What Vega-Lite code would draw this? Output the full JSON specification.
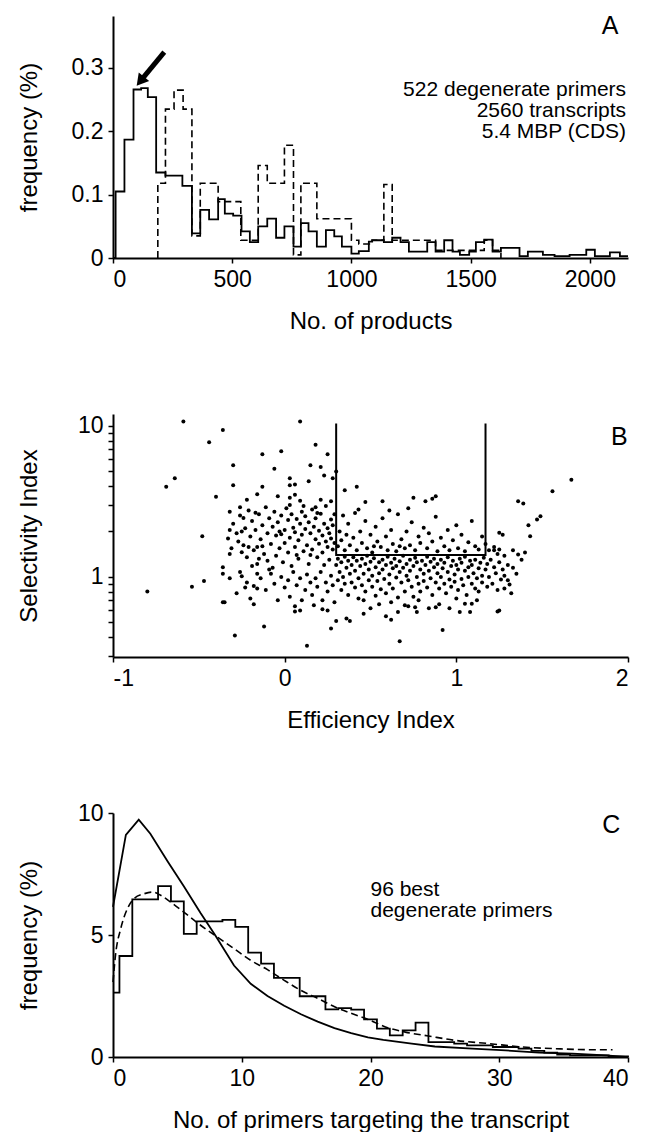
{
 "$schema": "https://vega.github.io/schema/vega-lite/v6.json",
 "background": "white",
 "padding": {"left": 16, "top": 13, "right": 0, "bottom": 0},
 "bounds": "flush",
 "spacing": 156,
 "config": {
  "view": {"stroke": null},
  "font": "Liberation Sans",
  "axis": {"grid": false, "domainColor": "black", "domainWidth": 2, "tickColor": "black", "tickWidth": 1.5, "tickSize": 5, "labelFont": "Liberation Sans", "labelFontSize": 23, "labelColor": "black", "labelPadding": 5, "titleFont": "Liberation Sans", "titleFontSize": 24, "titleFontWeight": "normal", "titleColor": "black", "titlePadding": 18},
  "axisLeft": {"titleX": -84, "titleBaseline": "middle"}
 },
 "vconcat": [
  {
   "width": 515, "height": 242,
   "layer": [
    {
     "data": {"values": [
      {"x":0,"y":0},{"x":11,"y":0.105},{"x":48,"y":0.187},{"x":86,"y":0.266},{"x":118,"y":0.268},{"x":146,"y":0.254},{"x":181,"y":0.135},{"x":220,"y":0.130},{"x":291,"y":0.114},{"x":331,"y":0.039},{"x":366,"y":0.076},{"x":403,"y":0.061},{"x":441,"y":0.093},{"x":469,"y":0.070},{"x":504,"y":0.067},{"x":539,"y":0.042},{"x":574,"y":0.025},{"x":609,"y":0.050},{"x":647,"y":0.062},{"x":684,"y":0.032},{"x":719,"y":0.050},{"x":757,"y":0.018},{"x":788,"y":0.055},{"x":820,"y":0.042},{"x":855,"y":0.018},{"x":893,"y":0.044},{"x":928,"y":0.034},{"x":960,"y":0.018},{"x":1000,"y":0.007},{"x":1031,"y":0.011},{"x":1073,"y":0.026},{"x":1087,"y":0.028},{"x":1136,"y":0.025},{"x":1171,"y":0.032},{"x":1206,"y":0.025},{"x":1241,"y":0.010},{"x":1318,"y":0.025},{"x":1353,"y":0.010},{"x":1389,"y":0.028},{"x":1424,"y":0.010},{"x":1455,"y":0.005},{"x":1494,"y":0.010},{"x":1522,"y":0.025},{"x":1557,"y":0.029},{"x":1592,"y":0.010},{"x":1627,"y":0.016},{"x":1705,"y":0.003},{"x":1740,"y":0.010},{"x":1803,"y":0.005},{"x":1852,"y":0.003},{"x":1915,"y":0.005},{"x":1985,"y":0.013},{"x":2021,"y":0.003},{"x":2084,"y":0.009},{"x":2126,"y":0.003},{"x":2160,"y":0.003}
     ]},
     "mark": {"type": "line", "interpolate": "step-after", "color": "black", "strokeWidth": 1.8},
     "encoding": {
      "x": {"field": "x", "type": "quantitative", "scale": {"domain": [0, 2160], "nice": false}, "axis": {"values": [0, 500, 1000, 1500, 2000], "format": "d"}, "title": "No. of products"},
      "y": {"field": "y", "type": "quantitative", "scale": {"domain": [0, 0.382], "nice": false}, "axis": {"values": [0, 0.1, 0.2, 0.3], "format": "~g"}, "title": "frequency (%)"}
     }
    },
    {
     "data": {"values": [
      {"x":188,"y":0},{"x":188,"y":0.118},{"x":220,"y":0.235},{"x":256,"y":0.265},{"x":294,"y":0.235},{"x":331,"y":0.035},{"x":366,"y":0.118},{"x":441,"y":0.089},{"x":536,"y":0.028},{"x":609,"y":0.146},{"x":647,"y":0.118},{"x":719,"y":0.178},{"x":757,"y":0.005},{"x":788,"y":0.118},{"x":855,"y":0.062},{"x":1000,"y":0.028},{"x":1031,"y":0.022},{"x":1087,"y":0.028},{"x":1136,"y":0.116},{"x":1171,"y":0.028},{"x":1353,"y":0.012},{"x":1557,"y":0.028},{"x":1592,"y":0.012},{"x":1627,"y":0}
     ]},
     "mark": {"type": "line", "interpolate": "step-after", "color": "black", "strokeWidth": 1.6, "strokeDash": [7, 4]},
     "encoding": {
      "x": {"field": "x", "type": "quantitative"},
      "y": {"field": "y", "type": "quantitative"}
     }
    },
    {
     "data": {"values": [{"x": 215, "y": 0.325, "x2": 127.6, "y2": 0.285}]},
     "mark": {"type": "rule", "color": "black", "strokeWidth": 5},
     "encoding": {
      "x": {"field": "x", "type": "quantitative"},
      "y": {"field": "y", "type": "quantitative"},
      "x2": {"field": "x2"},
      "y2": {"field": "y2"}
     }
    },
    {
     "data": {"values": [{"x": 114.6, "y": 0.279}]},
     "mark": {"type": "point", "shape": "triangle-up", "filled": true, "color": "black", "opacity": 1, "size": 180, "angle": 219},
     "encoding": {
      "x": {"field": "x", "type": "quantitative"},
      "y": {"field": "y", "type": "quantitative"}
     }
    },
    {
     "data": {"values": [
      {"x": 2152, "y": 0.2654, "t": "522 degenerate primers\n2560 transcripts\n5.4 MBP (CDS)"}
     ]},
     "mark": {"type": "text", "align": "right", "baseline": "middle", "fontSize": 21, "lineBreak": "\n", "lineHeight": 21, "color": "black"},
     "encoding": {
      "x": {"field": "x", "type": "quantitative"},
      "y": {"field": "y", "type": "quantitative"},
      "text": {"field": "t"}
     }
    },
    {
     "data": {"values": [{"x": 2085, "y": 0.367, "t": "A"}]},
     "mark": {"type": "text", "align": "center", "baseline": "middle", "fontSize": 25, "color": "black"},
     "encoding": {
      "x": {"field": "x", "type": "quantitative"},
      "y": {"field": "y", "type": "quantitative"},
      "text": {"field": "t"}
     }
    }
   ]
  },
  {
   "width": 515, "height": 243,
   "layer": [
    {
     "data": {"values": [
      {"x":-0.59,"y":10.7},{"x":0.09,"y":10.7},{"x":-0.36,"y":9.4},{"x":-0.44,"y":7.8},{"x":0.18,"y":7.5},{"x":-0.13,"y":6.5},{"x":-0.02,"y":6.8},{"x":0.25,"y":6.5},{"x":-0.30,"y":5.5},{"x":-0.06,"y":5.2},{"x":0.15,"y":5.5},{"x":0.21,"y":5.35},{"x":0.23,"y":4.7},{"x":0.14,"y":4.3},{"x":0.03,"y":4.5},{"x":0.28,"y":4.5},{"x":0.30,"y":5.0},{"x":0.03,"y":4.05},{"x":0.06,"y":4.1},{"x":-0.13,"y":3.95},{"x":-0.30,"y":4.05},{"x":-0.64,"y":4.5},{"x":-0.69,"y":3.95},{"x":-0.40,"y":3.4},{"x":-0.22,"y":3.25},{"x":-0.16,"y":3.53},{"x":-0.04,"y":3.42},{"x":0.03,"y":3.34},{"x":0.06,"y":3.5},{"x":0.09,"y":3.2},{"x":0.18,"y":2.9},{"x":0.21,"y":3.25},{"x":0.27,"y":3.17},{"x":0.35,"y":3.75},{"x":0.42,"y":3.95},{"x":0.47,"y":3.14},{"x":0.57,"y":3.17},{"x":0.75,"y":3.34},{"x":0.82,"y":3.17},{"x":0.86,"y":3.3},{"x":0.88,"y":3.42},{"x":1.67,"y":4.4},{"x":1.56,"y":3.7},{"x":1.36,"y":3.17},{"x":1.39,"y":3.06},{"x":1.49,"y":2.52},{"x":1.47,"y":2.4},{"x":1.42,"y":2.2},{"x":1.43,"y":1.86},{"x":1.36,"y":1.41},{"x":1.31,"y":0.89},{"x":1.28,"y":0.84},{"x":1.24,"y":0.59},{"x":-0.48,"y":1.86},{"x":-0.32,"y":2.7},{"x":-0.32,"y":2.05},{"x":-0.32,"y":1.42},{"x":-0.36,"y":1.16},{"x":-0.36,"y":1.05},{"x":-0.36,"y":0.68},{"x":-0.54,"y":0.86},{"x":-0.47,"y":0.94},{"x":-0.80,"y":0.80},{"x":-0.18,"y":0.66},{"x":-0.25,"y":1.01},{"x":-0.16,"y":1.05},{"x":-0.18,"y":0.87},{"x":-0.16,"y":0.84},{"x":-0.25,"y":1.46},{"x":-0.24,"y":2.46},{"x":-0.26,"y":2.9},{"x":-0.17,"y":2.66},{"x":-0.16,"y":1.58},{"x":-0.29,"y":0.41},{"x":-0.12,"y":0.47},{"x":0.27,"y":0.455},{"x":0.30,"y":0.51},{"x":0.38,"y":0.51},{"x":0.36,"y":0.53},{"x":0.67,"y":0.375},{"x":0.92,"y":0.445},{"x":0.09,"y":0.60},{"x":0.06,"y":0.59},{"x":0.25,"y":0.60},{"x":0.22,"y":0.61},{"x":0.46,"y":0.57},{"x":0.50,"y":0.62},{"x":0.59,"y":0.55},{"x":0.62,"y":0.52},{"x":0.70,"y":0.65},{"x":0.13,"y":0.35},{"x":1.25,"y":0.60},{"x":1.02,"y":0.586},{"x":1.08,"y":0.586},{"x":1.05,"y":0.665},{"x":1.09,"y":0.665},{"x":0.88,"y":0.63},{"x":0.76,"y":0.63},{"x":0.77,"y":0.586},{"x":0.66,"y":0.586},{"x":-0.35,"y":0.68},
      {"x":-0.30,"y":2.25},{"x":-0.28,"y":1.95},{"x":-0.27,"y":1.72},{"x":-0.26,"y":2.55},{"x":-0.24,"y":1.62},{"x":-0.23,"y":2.1},{"x":-0.22,"y":1.35},{"x":-0.21,"y":2.75},{"x":-0.20,"y":1.85},{"x":-0.19,"y":2.35},{"x":-0.18,"y":1.5},{"x":-0.17,"y":2.05},{"x":-0.16,"y":1.22},{"x":-0.15,"y":2.6},{"x":-0.14,"y":1.78},{"x":-0.13,"y":2.2},{"x":-0.12,"y":1.42},{"x":-0.11,"y":2.9},{"x":-0.10,"y":1.95},{"x":-0.10,"y":1.28},{"x":-0.09,"y":2.45},{"x":-0.08,"y":1.65},{"x":-0.07,"y":2.15},{"x":-0.07,"y":1.15},{"x":-0.06,"y":2.7},{"x":-0.05,"y":1.88},{"x":-0.05,"y":1.38},{"x":-0.04,"y":2.3},{"x":-0.03,"y":1.55},{"x":-0.02,"y":2.55},{"x":-0.02,"y":1.92},{"x":-0.01,"y":1.25},{"x":0.00,"y":2.05},{"x":0.00,"y":1.68},{"x":0.01,"y":2.85},{"x":0.02,"y":1.45},{"x":0.02,"y":2.38},{"x":0.03,"y":1.82},{"x":0.04,"y":1.18},{"x":0.04,"y":2.6},{"x":0.05,"y":2.12},{"x":0.06,"y":1.58},{"x":0.06,"y":1.98},{"x":0.07,"y":2.42},{"x":0.08,"y":1.32},{"x":0.08,"y":1.75},{"x":0.09,"y":2.25},{"x":0.10,"y":2.7},{"x":0.10,"y":1.9},{"x":0.11,"y":1.48},{"x":0.12,"y":2.08},{"x":0.12,"y":2.52},{"x":0.13,"y":1.62},{"x":0.14,"y":1.22},{"x":0.14,"y":2.3},{"x":0.15,"y":1.95},{"x":0.16,"y":2.8},{"x":0.16,"y":1.52},{"x":0.17,"y":2.15},{"x":0.18,"y":1.78},{"x":0.18,"y":2.45},{"x":0.19,"y":1.35},{"x":0.20,"y":2.02},{"x":0.20,"y":1.66},{"x":0.21,"y":2.62},{"x":0.22,"y":1.88},{"x":0.22,"y":1.45},{"x":0.23,"y":2.25},{"x":0.24,"y":1.72},{"x":0.24,"y":2.95},{"x":0.25,"y":1.58},{"x":0.25,"y":2.1},{"x":0.26,"y":1.95},{"x":0.26,"y":1.3},{"x":0.27,"y":2.4},{"x":0.27,"y":1.8},{"x":0.28,"y":1.52},{"x":0.28,"y":2.2},{"x":0.29,"y":1.68},{"x":0.29,"y":2.6},{"x":-0.33,"y":1.8},{"x":-0.31,"y":1.55},{"x":-0.25,"y":2.0},{"x":-0.19,"y":1.18},{"x":-0.13,"y":1.6},{"x":-0.09,"y":1.12},{"x":0.03,"y":3.0},{"x":0.11,"y":2.95},{"x":0.19,"y":2.65},{"x":0.07,"y":1.4},{"x":-0.03,"y":2.0},{"x":0.15,"y":1.4},{"x":0.23,"y":1.2},{"x":-0.15,"y":1.32},{"x":-0.21,"y":1.58},
      {"x":-0.32,"y":0.98},{"x":-0.28,"y":0.78},{"x":-0.26,"y":1.08},{"x":-0.22,"y":0.92},{"x":-0.20,"y":0.72},{"x":-0.14,"y":0.98},{"x":-0.11,"y":0.82},{"x":-0.08,"y":1.05},{"x":-0.06,"y":0.9},{"x":-0.04,"y":0.7},{"x":-0.02,"y":1.0},{"x":0.00,"y":0.85},{"x":0.02,"y":0.95},{"x":0.03,"y":0.74},{"x":0.05,"y":1.08},{"x":0.07,"y":0.88},{"x":0.09,"y":0.98},{"x":0.10,"y":0.7},{"x":0.12,"y":0.82},{"x":0.13,"y":1.04},{"x":0.15,"y":0.92},{"x":0.16,"y":0.76},{"x":0.18,"y":0.98},{"x":0.19,"y":0.86},{"x":0.21,"y":1.08},{"x":0.22,"y":0.7},{"x":0.24,"y":0.92},{"x":0.25,"y":0.8},{"x":0.27,"y":1.02},{"x":0.28,"y":0.88},{"x":0.29,"y":0.68},{"x":-0.23,"y":0.85},{"x":0.06,"y":0.64},{"x":0.17,"y":0.65},
      {"x":0.31,"y":1.6},{"x":0.32,"y":2.0},{"x":0.33,"y":1.75},{"x":0.34,"y":2.55},{"x":0.35,"y":1.5},{"x":0.36,"y":1.9},{"x":0.37,"y":2.25},{"x":0.38,"y":1.62},{"x":0.40,"y":1.82},{"x":0.41,"y":2.65},{"x":0.42,"y":1.5},{"x":0.44,"y":2.0},{"x":0.45,"y":1.68},{"x":0.47,"y":2.35},{"x":0.48,"y":1.55},{"x":0.50,"y":1.9},{"x":0.51,"y":1.45},{"x":0.53,"y":2.15},{"x":0.54,"y":1.72},{"x":0.56,"y":1.58},{"x":0.57,"y":2.45},{"x":0.59,"y":1.85},{"x":0.60,"y":1.5},{"x":0.62,"y":2.05},{"x":0.63,"y":1.65},{"x":0.65,"y":1.48},{"x":0.66,"y":2.6},{"x":0.68,"y":1.78},{"x":0.70,"y":1.55},{"x":0.71,"y":2.0},{"x":0.73,"y":1.62},{"x":0.74,"y":2.3},{"x":0.76,"y":1.5},{"x":0.78,"y":1.85},{"x":0.79,"y":1.68},{"x":0.81,"y":2.12},{"x":0.83,"y":1.55},{"x":0.84,"y":1.95},{"x":0.86,"y":1.72},{"x":0.88,"y":2.5},{"x":0.89,"y":1.48},{"x":0.91,"y":1.82},{"x":0.93,"y":1.6},{"x":0.95,"y":2.05},{"x":0.96,"y":1.5},{"x":0.98,"y":1.75},{"x":1.00,"y":2.2},{"x":1.01,"y":1.55},{"x":1.03,"y":1.9},{"x":1.05,"y":1.48},{"x":1.07,"y":1.7},{"x":1.09,"y":2.35},{"x":1.11,"y":1.6},{"x":1.13,"y":1.52},{"x":1.15,"y":1.85},{"x":1.17,"y":1.65},{"x":1.19,"y":1.5},{"x":1.22,"y":1.58},{"x":1.25,"y":1.52},{"x":0.43,"y":2.8},{"x":0.61,"y":2.75},{"x":0.72,"y":2.85},{"x":0.52,"y":1.6},{"x":0.67,"y":1.6},{"x":1.27,"y":1.9},{"x":1.22,"y":1.5},{"x":1.24,"y":1.42},{"x":1.28,"y":1.38},{"x":1.33,"y":1.5},{"x":1.25,"y":1.96},
      {"x":0.30,"y":1.2},{"x":0.31,"y":0.95},{"x":0.31,"y":1.32},{"x":0.32,"y":1.08},{"x":0.33,"y":0.82},{"x":0.33,"y":1.25},{"x":0.34,"y":1.0},{"x":0.35,"y":1.36},{"x":0.35,"y":0.9},{"x":0.36,"y":1.15},{"x":0.37,"y":0.76},{"x":0.37,"y":1.28},{"x":0.38,"y":1.05},{"x":0.39,"y":0.92},{"x":0.39,"y":1.2},{"x":0.40,"y":1.35},{"x":0.41,"y":0.85},{"x":0.41,"y":1.1},{"x":0.42,"y":1.28},{"x":0.43,"y":0.98},{"x":0.43,"y":0.72},{"x":0.44,"y":1.18},{"x":0.45,"y":1.32},{"x":0.45,"y":0.88},{"x":0.46,"y":1.05},{"x":0.47,"y":1.22},{"x":0.47,"y":0.8},{"x":0.48,"y":1.38},{"x":0.49,"y":0.95},{"x":0.49,"y":1.12},{"x":0.50,"y":1.26},{"x":0.51,"y":0.86},{"x":0.51,"y":1.02},{"x":0.52,"y":1.33},{"x":0.53,"y":0.75},{"x":0.53,"y":1.16},{"x":0.54,"y":0.94},{"x":0.55,"y":1.25},{"x":0.55,"y":1.06},{"x":0.56,"y":0.83},{"x":0.57,"y":1.3},{"x":0.57,"y":1.12},{"x":0.58,"y":0.97},{"x":0.59,"y":1.2},{"x":0.59,"y":0.78},{"x":0.60,"y":1.36},{"x":0.61,"y":1.04},{"x":0.61,"y":0.9},{"x":0.62,"y":1.24},{"x":0.63,"y":1.14},{"x":0.63,"y":0.84},{"x":0.64,"y":1.32},{"x":0.65,"y":0.99},{"x":0.65,"y":1.18},{"x":0.66,"y":0.73},{"x":0.67,"y":1.08},{"x":0.67,"y":1.27},{"x":0.68,"y":0.92},{"x":0.69,"y":1.38},{"x":0.69,"y":1.15},{"x":0.70,"y":0.8},{"x":0.71,"y":1.02},{"x":0.71,"y":1.22},{"x":0.72,"y":0.95},{"x":0.73,"y":1.3},{"x":0.73,"y":1.1},{"x":0.74,"y":0.86},{"x":0.75,"y":1.18},{"x":0.75,"y":0.74},{"x":0.76,"y":1.34},{"x":0.77,"y":1.0},{"x":0.77,"y":1.25},{"x":0.78,"y":0.9},{"x":0.79,"y":1.12},{"x":0.79,"y":0.8},{"x":0.80,"y":1.28},{"x":0.81,"y":1.05},{"x":0.81,"y":0.94},{"x":0.82,"y":1.2},{"x":0.83,"y":1.36},{"x":0.83,"y":0.85},{"x":0.84,"y":1.1},{"x":0.85,"y":0.98},{"x":0.85,"y":1.26},{"x":0.86,"y":0.76},{"x":0.87,"y":1.16},{"x":0.87,"y":1.32},{"x":0.88,"y":0.92},{"x":0.89,"y":1.06},{"x":0.89,"y":1.22},{"x":0.90,"y":0.84},{"x":0.91,"y":1.3},{"x":0.91,"y":1.0},{"x":0.92,"y":1.14},{"x":0.93,"y":0.9},{"x":0.93,"y":1.24},{"x":0.94,"y":0.78},{"x":0.95,"y":1.08},{"x":0.95,"y":1.35},{"x":0.96,"y":0.96},{"x":0.97,"y":1.18},{"x":0.97,"y":0.86},{"x":0.98,"y":1.28},{"x":0.99,"y":1.04},{"x":0.99,"y":0.93},{"x":1.00,"y":1.2},{"x":1.01,"y":0.82},{"x":1.01,"y":1.12},{"x":1.02,"y":1.32},{"x":1.03,"y":0.97},{"x":1.03,"y":1.24},{"x":1.04,"y":0.88},{"x":1.05,"y":1.1},{"x":1.05,"y":1.36},{"x":1.06,"y":0.76},{"x":1.07,"y":1.16},{"x":1.07,"y":1.0},{"x":1.08,"y":1.28},{"x":1.09,"y":0.9},{"x":1.09,"y":1.2},{"x":1.10,"y":1.06},{"x":1.11,"y":0.84},{"x":1.11,"y":1.3},{"x":1.12,"y":0.98},{"x":1.13,"y":1.14},{"x":1.13,"y":0.8},{"x":1.14,"y":1.24},{"x":1.15,"y":1.02},{"x":1.15,"y":0.92},{"x":1.16,"y":1.34},{"x":1.17,"y":1.12},{"x":1.18,"y":0.86},{"x":1.18,"y":1.22},{"x":1.19,"y":1.0},{"x":1.20,"y":1.3},{"x":1.21,"y":0.9},{"x":1.22,"y":1.16},{"x":1.23,"y":1.06},{"x":1.24,"y":0.82},{"x":1.25,"y":1.25},{"x":1.26,"y":0.96},{"x":1.27,"y":1.12},{"x":1.28,"y":1.02},{"x":1.30,"y":1.2},{"x":1.33,"y":1.15},{"x":1.35,"y":1.05},{"x":1.38,"y":1.3},{"x":1.40,"y":1.45},{"x":1.30,"y":0.95},{"x":1.32,"y":0.78},{"x":0.46,"y":0.7},{"x":0.62,"y":0.68},{"x":0.78,"y":0.7},{"x":0.90,"y":0.66},{"x":1.00,"y":0.72},{"x":1.12,"y":0.7},{"x":0.55,"y":0.66},{"x":0.84,"y":0.62},{"x":0.72,"y":0.64},{"x":0.96,"y":0.62}
     ]},
     "mark": {"type": "point", "filled": true, "color": "black", "opacity": 1, "size": 16, "shape": "circle"},
     "encoding": {
      "x": {"field": "x", "type": "quantitative", "scale": {"domain": [-1, 2], "nice": false}, "axis": {"values": [-1, 0, 1, 2], "labelExpr": "datum.value + ''"}, "title": "Efficiency Index"},
      "y": {"field": "y", "type": "quantitative", "scale": {"type": "log", "domain": [0.295, 12], "nice": false}, "axis": {"values": [0.3, 0.4, 0.5, 0.6, 0.7, 0.8, 0.9, 1, 2, 3, 4, 5, 6, 7, 8, 9, 10], "labelExpr": "datum.value == 1 ? '1' : (datum.value == 10 ? '10' : '')"}, "title": "Selectivity Index"}
     }
    },
    {
     "data": {"values": [
      {"x": 0.30, "y": 10.4, "o": 1}, {"x": 0.30, "y": 1.4, "o": 2}, {"x": 1.17, "y": 1.4, "o": 3}, {"x": 1.17, "y": 10.4, "o": 4}
     ]},
     "mark": {"type": "line", "color": "black", "strokeWidth": 2},
     "encoding": {
      "x": {"field": "x", "type": "quantitative"},
      "y": {"field": "y", "type": "quantitative"},
      "order": {"field": "o"}
     }
    },
    {
     "data": {"values": [{"x": 1.95, "y": 8.45, "t": "B"}]},
     "mark": {"type": "text", "align": "center", "baseline": "middle", "fontSize": 25, "color": "black"},
     "encoding": {
      "x": {"field": "x", "type": "quantitative"},
      "y": {"field": "y", "type": "quantitative"},
      "text": {"field": "t"}
     }
    }
   ]
  },
  {
   "width": 515, "height": 244,
   "layer": [
    {
     "data": {"values": [
      {"x":0,"y":2.64},{"x":0.5,"y":4.14},{"x":1.5,"y":6.46},{"x":3.5,"y":7.0},{"x":4.5,"y":6.38},{"x":5.5,"y":5.05},{"x":6.5,"y":5.56},{"x":8.5,"y":5.62},{"x":9.5,"y":5.33},{"x":10.5,"y":4.28},{"x":11.5,"y":3.83},{"x":12.5,"y":3.24},{"x":14.5,"y":2.49},{"x":16.5,"y":1.95},{"x":17.5,"y":2.0},{"x":18.5,"y":1.94},{"x":19.5,"y":1.54},{"x":20.5,"y":1.16},{"x":21.5,"y":0.89},{"x":22.5,"y":1.09},{"x":23.5,"y":1.41},{"x":24.5,"y":0.61},{"x":26.5,"y":0.55},{"x":27.5,"y":0.48},{"x":29.5,"y":0.41},{"x":31.5,"y":0.34},{"x":32.5,"y":0.25},{"x":33.5,"y":0.18},{"x":34.5,"y":0.1},{"x":35.5,"y":0.07},{"x":38.5,"y":0.02},{"x":40,"y":0}
     ]},
     "mark": {"type": "line", "interpolate": "step-after", "color": "black", "strokeWidth": 1.8},
     "encoding": {
      "x": {"field": "x", "type": "quantitative", "scale": {"domain": [0, 40], "nice": false}, "axis": {"values": [0, 10, 20, 30, 40]}, "title": "No. of primers targeting the transcript"},
      "y": {"field": "y", "type": "quantitative", "scale": {"domain": [0, 10], "nice": false}, "axis": {"values": [0, 5, 10]}, "title": "frequency (%)"}
     }
    },
    {
     "data": {"values": [
      {"x":0,"y":6.15},{"x":1,"y":9.1},{"x":2,"y":9.73},{"x":2.9,"y":9.15},{"x":4.26,"y":8.0},{"x":5.5,"y":7.0},{"x":6.8,"y":5.9},{"x":7.94,"y":4.99},{"x":9.4,"y":3.75},{"x":10.7,"y":3.0},{"x":12.0,"y":2.5},{"x":13.3,"y":2.1},{"x":14.6,"y":1.75},{"x":15.9,"y":1.45},{"x":17.2,"y":1.18},{"x":18.5,"y":0.98},{"x":19.8,"y":0.8},{"x":21,"y":0.7},{"x":23.2,"y":0.55},{"x":25,"y":0.43},{"x":27.9,"y":0.34},{"x":30.5,"y":0.27},{"x":33.1,"y":0.18},{"x":35.7,"y":0.14},{"x":38.3,"y":0.07},{"x":39.8,"y":0.0}
     ]},
     "mark": {"type": "line", "color": "black", "strokeWidth": 1.8},
     "encoding": {
      "x": {"field": "x", "type": "quantitative"},
      "y": {"field": "y", "type": "quantitative"}
     }
    },
    {
     "data": {"values": [
      {"x":0,"y":3.07},{"x":0.2,"y":4.2},{"x":0.6,"y":5.26},{"x":1.12,"y":6.08},{"x":1.63,"y":6.49},{"x":2.41,"y":6.69},{"x":3.05,"y":6.76},{"x":3.7,"y":6.63},{"x":4.48,"y":6.35},{"x":5.5,"y":5.94},{"x":6.8,"y":5.4},{"x":8.1,"y":4.92},{"x":9.4,"y":4.44},{"x":10.7,"y":3.96},{"x":12.0,"y":3.58},{"x":13.3,"y":3.14},{"x":14.6,"y":2.73},{"x":15.95,"y":2.39},{"x":17.25,"y":2.05},{"x":18.55,"y":1.78},{"x":19.85,"y":1.53},{"x":21.4,"y":1.19},{"x":22.7,"y":1.02},{"x":24.5,"y":0.86},{"x":26.6,"y":0.68},{"x":29.2,"y":0.55},{"x":31.8,"y":0.41},{"x":34.4,"y":0.34},{"x":37.0,"y":0.30},{"x":38.8,"y":0.30}
     ]},
     "mark": {"type": "line", "interpolate": "monotone", "color": "black", "strokeWidth": 1.6, "strokeDash": [7, 4]},
     "encoding": {
      "x": {"field": "x", "type": "quantitative"},
      "y": {"field": "y", "type": "quantitative"}
     }
    },
    {
     "data": {"values": [
      {"x": 20.0, "y": 6.84, "t": "96 best\ndegenerate primers"}
     ]},
     "mark": {"type": "text", "align": "left", "baseline": "middle", "fontSize": 21, "lineBreak": "\n", "lineHeight": 21, "color": "black"},
     "encoding": {
      "x": {"field": "x", "type": "quantitative"},
      "y": {"field": "y", "type": "quantitative"},
      "text": {"field": "t"}
     }
    },
    {
     "data": {"values": [{"x": 38.7, "y": 9.5, "t": "C"}]},
     "mark": {"type": "text", "align": "center", "baseline": "middle", "fontSize": 25, "color": "black"},
     "encoding": {
      "x": {"field": "x", "type": "quantitative"},
      "y": {"field": "y", "type": "quantitative"},
      "text": {"field": "t"}
     }
    }
   ]
  }
 ]
}
